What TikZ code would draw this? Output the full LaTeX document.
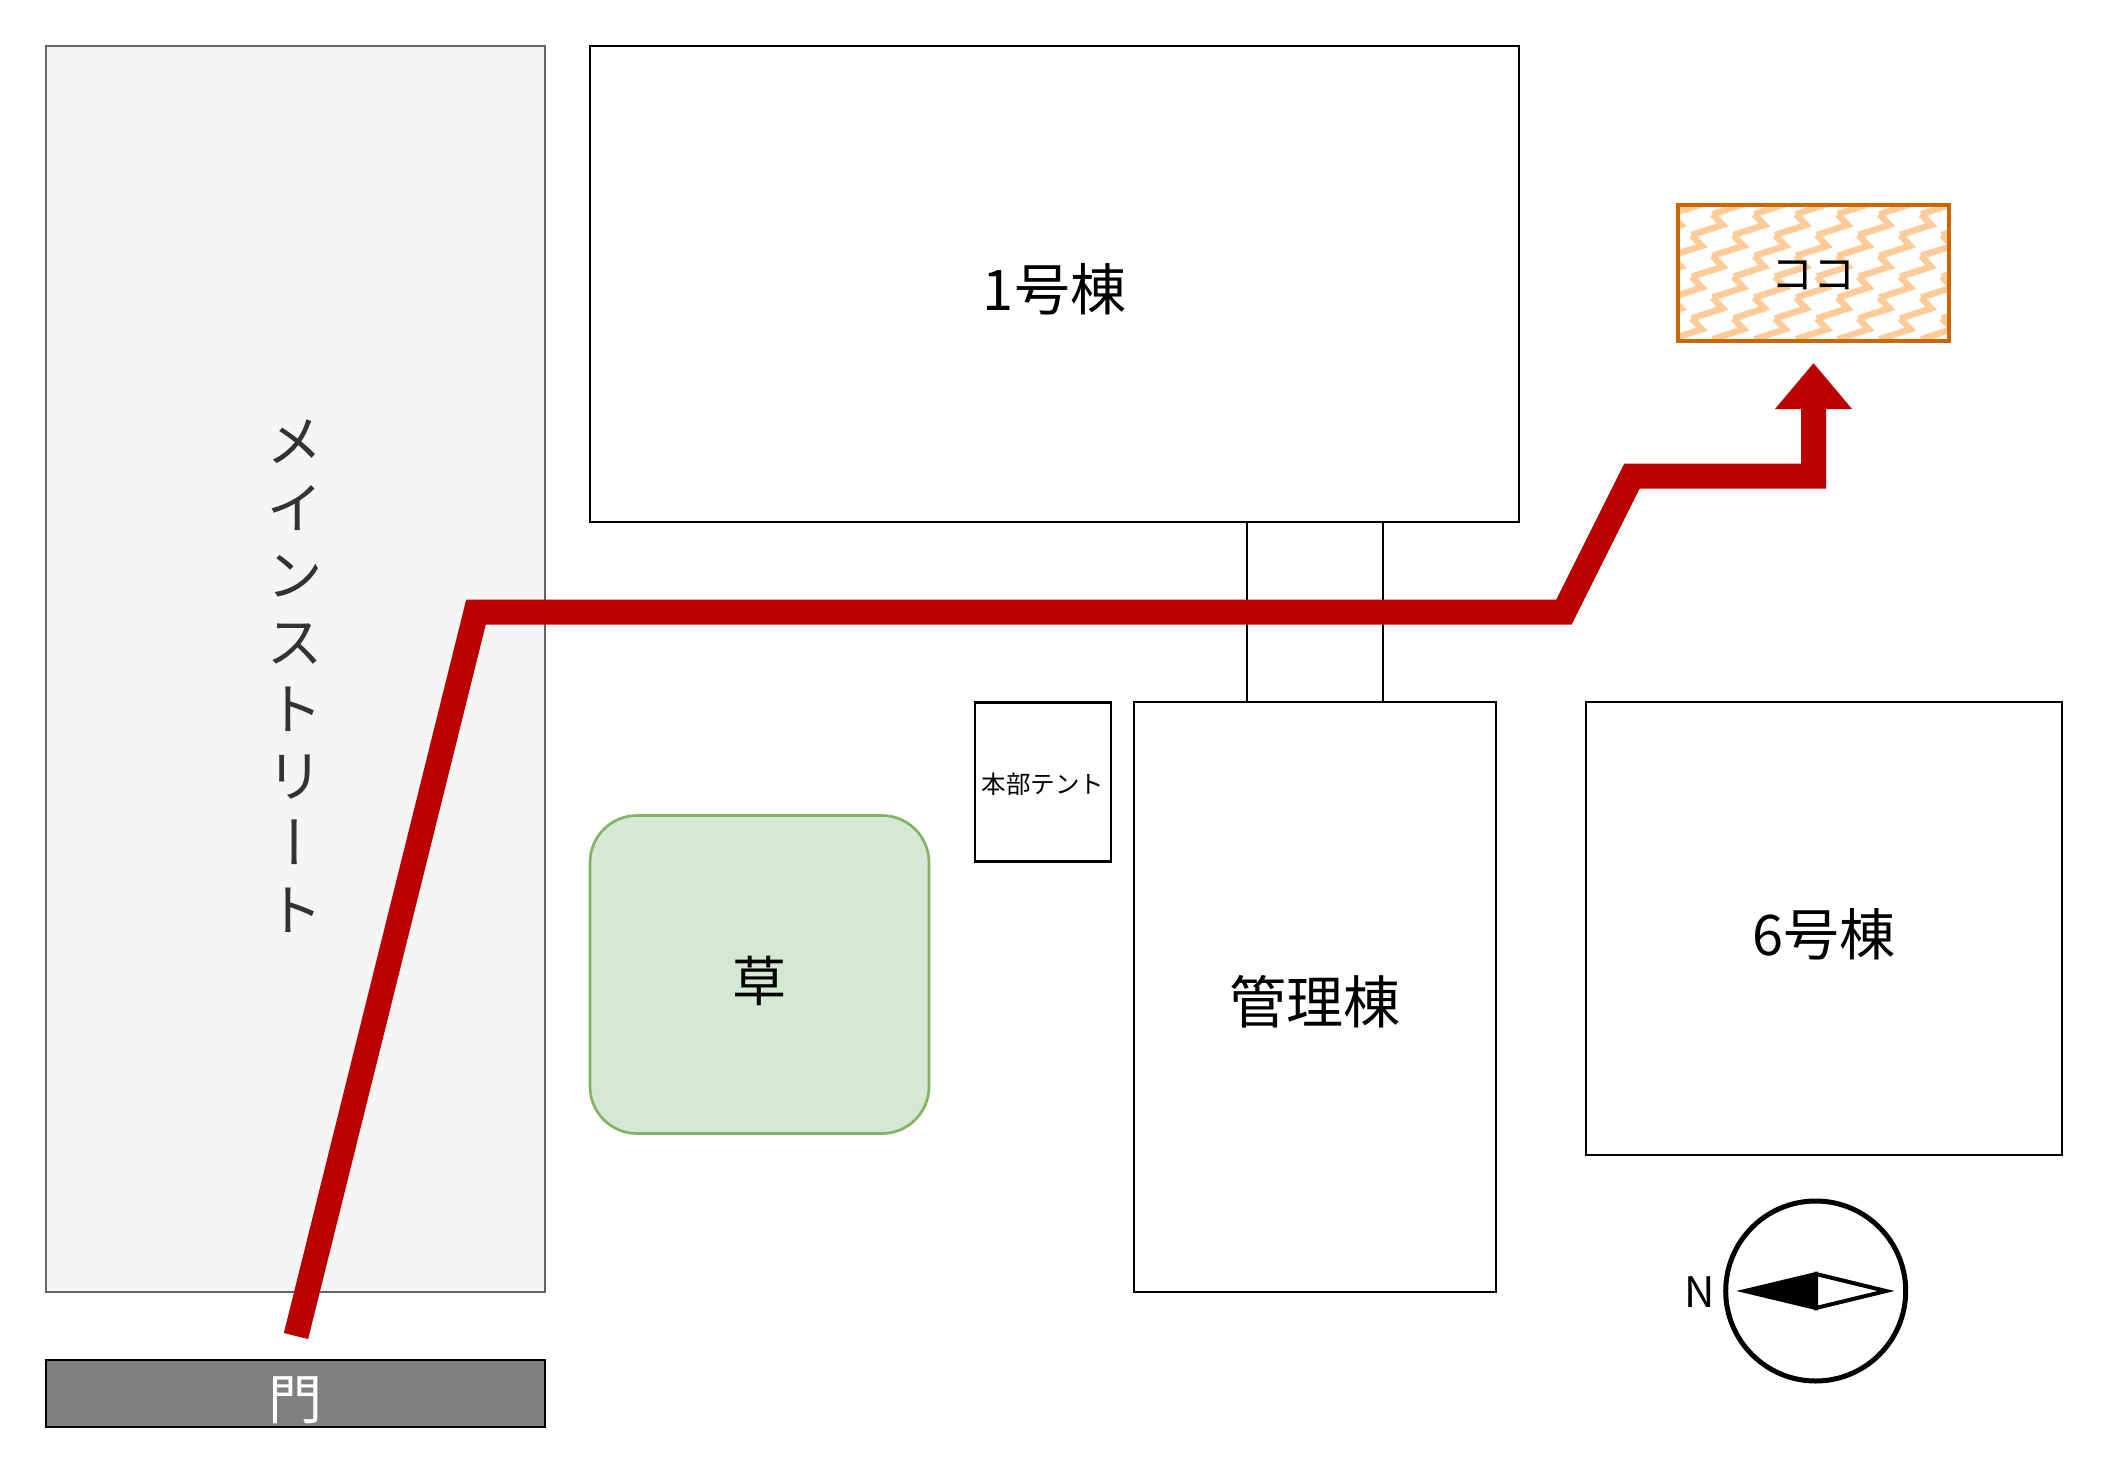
\documentclass[tikz,border=0pt]{standalone}
\usepackage{fontspec}
\setmainfont{Noto Sans CJK JP}
\newfontfamily\vertfont[RawFeature={+vert}]{Noto Sans CJK JP}
\usetikzlibrary{arrows.meta,calc}
\definecolor{routered}{HTML}{BB0000}
\definecolor{goalorange}{HTML}{CC6600}
\definecolor{goalhatch}{HTML}{FFCC99}
\definecolor{grassfill}{HTML}{D5E8D4}
\definecolor{grassline}{HTML}{82B366}
\begin{document}
\begin{tikzpicture}[x=1pt,y=-1pt,line width=2.7pt,
  bldg/.style={draw,inner sep=0pt,outer sep=0pt,align=center,text height=53pt,text depth=0pt,font=\fontsize{56}{60}\selectfont},
  route/.style={routered,line width=25pt,line join=miter,-{Triangle[length=46pt,width=74pt]}}]
\useasboundingbox (0,0) rectangle (2109,1474);
\node[bldg,fill=black!4,draw=black!60,minimum width=499pt,minimum height=1246pt] (street) at (295.5,669) {};
\node[align=center,text=black!80,font=\vertfont\fontsize{57}{67}\selectfont,inner sep=0pt] (streetname) at (295,676) {メ\\イ\\ン\\ス\\ト\\リ\\ー\\ト};
\node[bldg,fill=black!50,text=white,text height=51pt,font=\fontsize{54}{60}\selectfont,minimum width=499pt,minimum height=67pt] (gate) at (295.5,1393.5) {門};
\node[bldg,minimum width=929pt,minimum height=476pt] (one) at (1054.5,284) {1号棟};
\node[bldg,text height=22pt,font=\fontsize{24.5}{28}\selectfont,minimum width=136pt,minimum height=159pt] (tent) at (1043,782) {本部テント};
\node[bldg,font=\fontsize{57}{60}\selectfont,minimum width=362pt,minimum height=590pt] (admin) at (1315,997) {管理棟};
\node[bldg,minimum width=476pt,minimum height=453pt] (six) at (1824,928.5) {6号棟};
\node[bldg,fill=grassfill,draw=grassline,font=\fontsize{54}{60}\selectfont,rounded corners=47pt,minimum width=339pt,minimum height=318pt] (grass) at (759.5,974.5) {草};
% passage between the two buildings
\coordinate (passw) at (1247,702);
\coordinate (passe) at (1383,702);
\draw (passw) -- (passw |- one.south);
\draw (passe) -- (passe |- one.south);
% goal box with its zigzag fill
\begin{scope}
\clip (1678,205) rectangle (1949,341);
\foreach \i in {-1,...,7}
  \foreach \j in {-1,...,3} {
    \draw[goalhatch,line width=6.5pt] ($(1691.7,235)+(41.7*\i,41.7*\j)$) -- ++(31,-10) -- ++(-10.2,-10.8);
    \draw[goalhatch,line width=6.5pt] ($(1712.55,255.85)+(41.7*\i,41.7*\j)$) -- ++(31,-10) -- ++(-10.2,-10.8);
  }
\end{scope}
\node[bldg,draw=goalorange,line width=4.5pt,text height=33pt,font=\fontsize{42}{46}\selectfont,minimum width=271pt,minimum height=136pt] (goal) at (1813.5,273) {ココ};
% compass
\node[draw,circle,line width=5pt,inner sep=0pt,outer sep=0pt,minimum size=180pt] (compass) at (1815.7,1291) {};
\node[inner sep=0pt,font=\fontsize{42}{46}\selectfont] (north) at (1700,1292) {N};
\coordinate (ntip) at (1745,1291);
\coordinate (stip) at (1886,1291);
\coordinate (needletop) at (1816,1274);
\coordinate (needlebot) at (1816,1308);
\draw[line width=4pt,line join=miter,fill=black] (ntip) -- (needletop) -- (needlebot) -- cycle;
\draw[line width=4pt,line join=miter,fill=white] (stip) -- (needletop) -- (needlebot) -- cycle;
% route
\coordinate (rstart) at (296,1336);
\coordinate (rbend1) at (476,612);
\coordinate (rbend2) at (1564,612);
\coordinate (rbend3) at (1632,476);
\coordinate (rbend4) at (1813.5,476);
\coordinate (rend) at (1813.5,363);
\draw[route] (rstart) -- (rbend1) -- (rbend2) -- (rbend3) -- (rbend4) -- (rend);
\end{tikzpicture}
\end{document}
